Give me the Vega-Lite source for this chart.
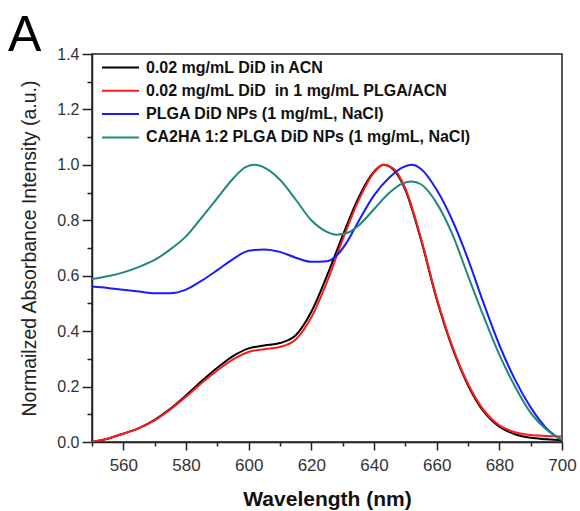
{
  "$schema": "https://vega.github.io/schema/vega-lite/v6.json",
  "autosize": "none",
  "width": 470,
  "height": 388,
  "padding": {"left": 92, "top": 54, "right": 18, "bottom": 69},
  "background": "white",
  "title": {"text": "A", "fontSize": 50, "fontWeight": "normal", "font": "Liberation Sans", "anchor": "start", "frame": "group", "dx": -84, "dy": 17, "offset": 2, "color": "#000"},
  "config": {
    "view": {"stroke": "#222", "strokeWidth": 1.5},
    "font": "Liberation Sans"
  },
  "datasets": {
    "spectra": [
      {"wl": 550, "v": 0.0, "s": "0.02 mg/mL DiD in ACN"},
      {"wl": 555, "v": 0.012, "s": "0.02 mg/mL DiD in ACN"},
      {"wl": 560, "v": 0.03, "s": "0.02 mg/mL DiD in ACN"},
      {"wl": 565, "v": 0.05, "s": "0.02 mg/mL DiD in ACN"},
      {"wl": 570, "v": 0.08, "s": "0.02 mg/mL DiD in ACN"},
      {"wl": 575, "v": 0.12, "s": "0.02 mg/mL DiD in ACN"},
      {"wl": 580, "v": 0.168, "s": "0.02 mg/mL DiD in ACN"},
      {"wl": 585, "v": 0.22, "s": "0.02 mg/mL DiD in ACN"},
      {"wl": 590, "v": 0.268, "s": "0.02 mg/mL DiD in ACN"},
      {"wl": 595, "v": 0.31, "s": "0.02 mg/mL DiD in ACN"},
      {"wl": 600, "v": 0.338, "s": "0.02 mg/mL DiD in ACN"},
      {"wl": 605, "v": 0.348, "s": "0.02 mg/mL DiD in ACN"},
      {"wl": 610, "v": 0.357, "s": "0.02 mg/mL DiD in ACN"},
      {"wl": 615, "v": 0.385, "s": "0.02 mg/mL DiD in ACN"},
      {"wl": 620, "v": 0.47, "s": "0.02 mg/mL DiD in ACN"},
      {"wl": 625, "v": 0.6, "s": "0.02 mg/mL DiD in ACN"},
      {"wl": 630, "v": 0.745, "s": "0.02 mg/mL DiD in ACN"},
      {"wl": 635, "v": 0.88, "s": "0.02 mg/mL DiD in ACN"},
      {"wl": 640, "v": 0.975, "s": "0.02 mg/mL DiD in ACN"},
      {"wl": 643, "v": 1.0, "s": "0.02 mg/mL DiD in ACN"},
      {"wl": 646, "v": 0.985, "s": "0.02 mg/mL DiD in ACN"},
      {"wl": 650, "v": 0.91, "s": "0.02 mg/mL DiD in ACN"},
      {"wl": 655, "v": 0.73, "s": "0.02 mg/mL DiD in ACN"},
      {"wl": 660, "v": 0.515, "s": "0.02 mg/mL DiD in ACN"},
      {"wl": 665, "v": 0.34, "s": "0.02 mg/mL DiD in ACN"},
      {"wl": 670, "v": 0.205, "s": "0.02 mg/mL DiD in ACN"},
      {"wl": 675, "v": 0.11, "s": "0.02 mg/mL DiD in ACN"},
      {"wl": 680, "v": 0.055, "s": "0.02 mg/mL DiD in ACN"},
      {"wl": 685, "v": 0.028, "s": "0.02 mg/mL DiD in ACN"},
      {"wl": 690, "v": 0.015, "s": "0.02 mg/mL DiD in ACN"},
      {"wl": 695, "v": 0.01, "s": "0.02 mg/mL DiD in ACN"},
      {"wl": 700, "v": 0.006, "s": "0.02 mg/mL DiD in ACN"},

      {"wl": 550, "v": 0.0, "s": "0.02 mg/mL DiD\u00a0 in 1 mg/mL PLGA/ACN"},
      {"wl": 555, "v": 0.012, "s": "0.02 mg/mL DiD\u00a0 in 1 mg/mL PLGA/ACN"},
      {"wl": 560, "v": 0.03, "s": "0.02 mg/mL DiD\u00a0 in 1 mg/mL PLGA/ACN"},
      {"wl": 565, "v": 0.05, "s": "0.02 mg/mL DiD\u00a0 in 1 mg/mL PLGA/ACN"},
      {"wl": 570, "v": 0.078, "s": "0.02 mg/mL DiD\u00a0 in 1 mg/mL PLGA/ACN"},
      {"wl": 575, "v": 0.117, "s": "0.02 mg/mL DiD\u00a0 in 1 mg/mL PLGA/ACN"},
      {"wl": 580, "v": 0.163, "s": "0.02 mg/mL DiD\u00a0 in 1 mg/mL PLGA/ACN"},
      {"wl": 585, "v": 0.213, "s": "0.02 mg/mL DiD\u00a0 in 1 mg/mL PLGA/ACN"},
      {"wl": 590, "v": 0.258, "s": "0.02 mg/mL DiD\u00a0 in 1 mg/mL PLGA/ACN"},
      {"wl": 595, "v": 0.298, "s": "0.02 mg/mL DiD\u00a0 in 1 mg/mL PLGA/ACN"},
      {"wl": 600, "v": 0.325, "s": "0.02 mg/mL DiD\u00a0 in 1 mg/mL PLGA/ACN"},
      {"wl": 605, "v": 0.335, "s": "0.02 mg/mL DiD\u00a0 in 1 mg/mL PLGA/ACN"},
      {"wl": 610, "v": 0.343, "s": "0.02 mg/mL DiD\u00a0 in 1 mg/mL PLGA/ACN"},
      {"wl": 615, "v": 0.37, "s": "0.02 mg/mL DiD\u00a0 in 1 mg/mL PLGA/ACN"},
      {"wl": 620, "v": 0.45, "s": "0.02 mg/mL DiD\u00a0 in 1 mg/mL PLGA/ACN"},
      {"wl": 625, "v": 0.578, "s": "0.02 mg/mL DiD\u00a0 in 1 mg/mL PLGA/ACN"},
      {"wl": 630, "v": 0.73, "s": "0.02 mg/mL DiD\u00a0 in 1 mg/mL PLGA/ACN"},
      {"wl": 635, "v": 0.87, "s": "0.02 mg/mL DiD\u00a0 in 1 mg/mL PLGA/ACN"},
      {"wl": 640, "v": 0.972, "s": "0.02 mg/mL DiD\u00a0 in 1 mg/mL PLGA/ACN"},
      {"wl": 643, "v": 1.0, "s": "0.02 mg/mL DiD\u00a0 in 1 mg/mL PLGA/ACN"},
      {"wl": 646, "v": 0.988, "s": "0.02 mg/mL DiD\u00a0 in 1 mg/mL PLGA/ACN"},
      {"wl": 650, "v": 0.915, "s": "0.02 mg/mL DiD\u00a0 in 1 mg/mL PLGA/ACN"},
      {"wl": 655, "v": 0.735, "s": "0.02 mg/mL DiD\u00a0 in 1 mg/mL PLGA/ACN"},
      {"wl": 660, "v": 0.52, "s": "0.02 mg/mL DiD\u00a0 in 1 mg/mL PLGA/ACN"},
      {"wl": 665, "v": 0.345, "s": "0.02 mg/mL DiD\u00a0 in 1 mg/mL PLGA/ACN"},
      {"wl": 670, "v": 0.21, "s": "0.02 mg/mL DiD\u00a0 in 1 mg/mL PLGA/ACN"},
      {"wl": 675, "v": 0.115, "s": "0.02 mg/mL DiD\u00a0 in 1 mg/mL PLGA/ACN"},
      {"wl": 680, "v": 0.06, "s": "0.02 mg/mL DiD\u00a0 in 1 mg/mL PLGA/ACN"},
      {"wl": 685, "v": 0.035, "s": "0.02 mg/mL DiD\u00a0 in 1 mg/mL PLGA/ACN"},
      {"wl": 690, "v": 0.025, "s": "0.02 mg/mL DiD\u00a0 in 1 mg/mL PLGA/ACN"},
      {"wl": 695, "v": 0.022, "s": "0.02 mg/mL DiD\u00a0 in 1 mg/mL PLGA/ACN"},
      {"wl": 700, "v": 0.02, "s": "0.02 mg/mL DiD\u00a0 in 1 mg/mL PLGA/ACN"},

      {"wl": 550, "v": 0.561, "s": "PLGA DiD NPs (1 mg/mL, NaCl)"},
      {"wl": 555, "v": 0.556, "s": "PLGA DiD NPs (1 mg/mL, NaCl)"},
      {"wl": 560, "v": 0.549, "s": "PLGA DiD NPs (1 mg/mL, NaCl)"},
      {"wl": 565, "v": 0.543, "s": "PLGA DiD NPs (1 mg/mL, NaCl)"},
      {"wl": 570, "v": 0.537, "s": "PLGA DiD NPs (1 mg/mL, NaCl)"},
      {"wl": 575, "v": 0.537, "s": "PLGA DiD NPs (1 mg/mL, NaCl)"},
      {"wl": 580, "v": 0.55, "s": "PLGA DiD NPs (1 mg/mL, NaCl)"},
      {"wl": 585, "v": 0.582, "s": "PLGA DiD NPs (1 mg/mL, NaCl)"},
      {"wl": 590, "v": 0.62, "s": "PLGA DiD NPs (1 mg/mL, NaCl)"},
      {"wl": 595, "v": 0.66, "s": "PLGA DiD NPs (1 mg/mL, NaCl)"},
      {"wl": 600, "v": 0.69, "s": "PLGA DiD NPs (1 mg/mL, NaCl)"},
      {"wl": 605, "v": 0.695, "s": "PLGA DiD NPs (1 mg/mL, NaCl)"},
      {"wl": 610, "v": 0.686, "s": "PLGA DiD NPs (1 mg/mL, NaCl)"},
      {"wl": 615, "v": 0.665, "s": "PLGA DiD NPs (1 mg/mL, NaCl)"},
      {"wl": 620, "v": 0.65, "s": "PLGA DiD NPs (1 mg/mL, NaCl)"},
      {"wl": 625, "v": 0.652, "s": "PLGA DiD NPs (1 mg/mL, NaCl)"},
      {"wl": 628, "v": 0.672, "s": "PLGA DiD NPs (1 mg/mL, NaCl)"},
      {"wl": 631, "v": 0.715, "s": "PLGA DiD NPs (1 mg/mL, NaCl)"},
      {"wl": 635, "v": 0.795, "s": "PLGA DiD NPs (1 mg/mL, NaCl)"},
      {"wl": 640, "v": 0.89, "s": "PLGA DiD NPs (1 mg/mL, NaCl)"},
      {"wl": 645, "v": 0.955, "s": "PLGA DiD NPs (1 mg/mL, NaCl)"},
      {"wl": 649, "v": 0.99, "s": "PLGA DiD NPs (1 mg/mL, NaCl)"},
      {"wl": 652, "v": 1.0, "s": "PLGA DiD NPs (1 mg/mL, NaCl)"},
      {"wl": 655, "v": 0.985, "s": "PLGA DiD NPs (1 mg/mL, NaCl)"},
      {"wl": 660, "v": 0.91, "s": "PLGA DiD NPs (1 mg/mL, NaCl)"},
      {"wl": 665, "v": 0.8, "s": "PLGA DiD NPs (1 mg/mL, NaCl)"},
      {"wl": 670, "v": 0.66, "s": "PLGA DiD NPs (1 mg/mL, NaCl)"},
      {"wl": 675, "v": 0.5, "s": "PLGA DiD NPs (1 mg/mL, NaCl)"},
      {"wl": 680, "v": 0.35, "s": "PLGA DiD NPs (1 mg/mL, NaCl)"},
      {"wl": 685, "v": 0.225, "s": "PLGA DiD NPs (1 mg/mL, NaCl)"},
      {"wl": 690, "v": 0.125, "s": "PLGA DiD NPs (1 mg/mL, NaCl)"},
      {"wl": 695, "v": 0.05, "s": "PLGA DiD NPs (1 mg/mL, NaCl)"},
      {"wl": 700, "v": 0.006, "s": "PLGA DiD NPs (1 mg/mL, NaCl)"},

      {"wl": 550, "v": 0.588, "s": "CA2HA 1:2 PLGA DiD NPs (1 mg/mL, NaCl)"},
      {"wl": 555, "v": 0.598, "s": "CA2HA 1:2 PLGA DiD NPs (1 mg/mL, NaCl)"},
      {"wl": 560, "v": 0.612, "s": "CA2HA 1:2 PLGA DiD NPs (1 mg/mL, NaCl)"},
      {"wl": 565, "v": 0.632, "s": "CA2HA 1:2 PLGA DiD NPs (1 mg/mL, NaCl)"},
      {"wl": 570, "v": 0.657, "s": "CA2HA 1:2 PLGA DiD NPs (1 mg/mL, NaCl)"},
      {"wl": 575, "v": 0.695, "s": "CA2HA 1:2 PLGA DiD NPs (1 mg/mL, NaCl)"},
      {"wl": 580, "v": 0.742, "s": "CA2HA 1:2 PLGA DiD NPs (1 mg/mL, NaCl)"},
      {"wl": 585, "v": 0.81, "s": "CA2HA 1:2 PLGA DiD NPs (1 mg/mL, NaCl)"},
      {"wl": 590, "v": 0.88, "s": "CA2HA 1:2 PLGA DiD NPs (1 mg/mL, NaCl)"},
      {"wl": 595, "v": 0.95, "s": "CA2HA 1:2 PLGA DiD NPs (1 mg/mL, NaCl)"},
      {"wl": 599, "v": 0.992, "s": "CA2HA 1:2 PLGA DiD NPs (1 mg/mL, NaCl)"},
      {"wl": 602, "v": 1.0, "s": "CA2HA 1:2 PLGA DiD NPs (1 mg/mL, NaCl)"},
      {"wl": 605, "v": 0.99, "s": "CA2HA 1:2 PLGA DiD NPs (1 mg/mL, NaCl)"},
      {"wl": 610, "v": 0.946, "s": "CA2HA 1:2 PLGA DiD NPs (1 mg/mL, NaCl)"},
      {"wl": 615, "v": 0.875, "s": "CA2HA 1:2 PLGA DiD NPs (1 mg/mL, NaCl)"},
      {"wl": 620, "v": 0.8, "s": "CA2HA 1:2 PLGA DiD NPs (1 mg/mL, NaCl)"},
      {"wl": 625, "v": 0.758, "s": "CA2HA 1:2 PLGA DiD NPs (1 mg/mL, NaCl)"},
      {"wl": 628, "v": 0.748, "s": "CA2HA 1:2 PLGA DiD NPs (1 mg/mL, NaCl)"},
      {"wl": 632, "v": 0.757, "s": "CA2HA 1:2 PLGA DiD NPs (1 mg/mL, NaCl)"},
      {"wl": 635, "v": 0.78, "s": "CA2HA 1:2 PLGA DiD NPs (1 mg/mL, NaCl)"},
      {"wl": 640, "v": 0.84, "s": "CA2HA 1:2 PLGA DiD NPs (1 mg/mL, NaCl)"},
      {"wl": 645, "v": 0.9, "s": "CA2HA 1:2 PLGA DiD NPs (1 mg/mL, NaCl)"},
      {"wl": 649, "v": 0.932, "s": "CA2HA 1:2 PLGA DiD NPs (1 mg/mL, NaCl)"},
      {"wl": 652, "v": 0.94, "s": "CA2HA 1:2 PLGA DiD NPs (1 mg/mL, NaCl)"},
      {"wl": 655, "v": 0.93, "s": "CA2HA 1:2 PLGA DiD NPs (1 mg/mL, NaCl)"},
      {"wl": 660, "v": 0.862, "s": "CA2HA 1:2 PLGA DiD NPs (1 mg/mL, NaCl)"},
      {"wl": 665, "v": 0.75, "s": "CA2HA 1:2 PLGA DiD NPs (1 mg/mL, NaCl)"},
      {"wl": 670, "v": 0.6, "s": "CA2HA 1:2 PLGA DiD NPs (1 mg/mL, NaCl)"},
      {"wl": 675, "v": 0.453, "s": "CA2HA 1:2 PLGA DiD NPs (1 mg/mL, NaCl)"},
      {"wl": 680, "v": 0.315, "s": "CA2HA 1:2 PLGA DiD NPs (1 mg/mL, NaCl)"},
      {"wl": 685, "v": 0.2, "s": "CA2HA 1:2 PLGA DiD NPs (1 mg/mL, NaCl)"},
      {"wl": 690, "v": 0.105, "s": "CA2HA 1:2 PLGA DiD NPs (1 mg/mL, NaCl)"},
      {"wl": 695, "v": 0.045, "s": "CA2HA 1:2 PLGA DiD NPs (1 mg/mL, NaCl)"},
      {"wl": 700, "v": 0.008, "s": "CA2HA 1:2 PLGA DiD NPs (1 mg/mL, NaCl)"}
    ]
  },
  "data": {"name": "spectra"},
  "mark": {"type": "line", "strokeWidth": 2, "interpolate": "monotone", "clip": true},
  "encoding": {
    "x": {
      "field": "wl", "type": "quantitative",
      "scale": {"domain": [550, 700], "nice": false, "zero": false},
      "axis": {
        "title": "Wavelength (nm)",
        "titleFontSize": 21, "titleFontWeight": "bold", "titleColor": "#111", "titlePadding": 15,
        "values": [550, 560, 570, 580, 590, 600, 610, 620, 630, 640, 650, 660, 670, 680, 690, 700],
        "labelExpr": "datum.value % 20 === 0 ? datum.label : ''",
        "labelFontSize": 17, "labelColor": "#333", "labelPadding": 7, "labelOverlap": false,
        "labelFlush": false,
        "tickSize": {"condition": {"test": "datum.value % 20 === 0", "value": 8}, "value": 4},
        "tickColor": "#222", "tickWidth": 1.5,
        "domainColor": "#222", "domainWidth": 1.5,
        "grid": false
      }
    },
    "y": {
      "field": "v", "type": "quantitative",
      "scale": {"domain": [0, 1.4], "nice": false},
      "axis": {
        "title": "Normailzed Absorbance Intensity (a.u.)",
        "titleFontSize": 19.5, "titleFontWeight": "normal", "titleColor": "#222", "titlePadding": 17,
        "values": [0, 0.1, 0.2, 0.3, 0.4, 0.5, 0.6, 0.7, 0.8, 0.9, 1.0, 1.1, 1.2, 1.3, 1.4],
        "labelExpr": "round(datum.value * 10) % 2 === 0 ? format(datum.value, '.1f') : ''",
        "labelFontSize": 16, "labelColor": "#333", "labelPadding": 3, "labelOverlap": false,
        "labelFlush": false,
        "tickSize": {"condition": {"test": "round(datum.value * 10) % 2 === 0", "value": 10}, "value": 5},
        "tickColor": "#222", "tickWidth": 1.5,
        "domainColor": "#222", "domainWidth": 1.5,
        "grid": false
      }
    },
    "color": {
      "field": "s", "type": "nominal",
      "scale": {
        "domain": ["0.02 mg/mL DiD in ACN", "0.02 mg/mL DiD\u00a0 in 1 mg/mL PLGA/ACN", "PLGA DiD NPs (1 mg/mL, NaCl)", "CA2HA 1:2 PLGA DiD NPs (1 mg/mL, NaCl)"],
        "range": ["#000000", "#ff1a1a", "#1a1aff", "#21877d"]
      },
      "legend": {
        "orient": "none", "legendX": 20, "legendY": 5,
        "title": null, "padding": 0,
        "symbolType": "M-2.5,0H2.5", "symbolSize": 219, "symbolStrokeWidth": 2,
        "labelFontSize": 16, "labelFontWeight": "bold", "labelColor": "#111",
        "labelOffset": 17, "rowPadding": 6.3, "labelLimit": 400
      }
    },
    "order": {"field": "s"}
  }
}
